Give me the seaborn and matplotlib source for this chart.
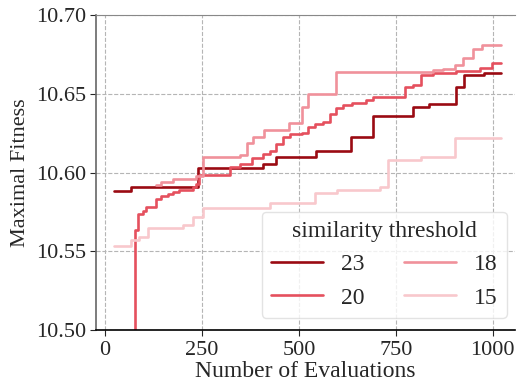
import pandas as pd
import matplotlib
matplotlib.use("Agg")
import matplotlib.pyplot as plt
import seaborn as sns

thresholds = ["23", "20", "18", "15"]
colors = ["#9a0a12", "#e5505e", "#f0919b", "#f8c8cc"]

evals_23 = [24, 67, 239, 408, 442, 543, 633, 691, 793, 836, 904, 926, 977, 1020]
fit_23 = [10.5884, 10.5906, 10.6027, 10.6054, 10.6100, 10.6137, 10.6223,
          10.6359, 10.6414, 10.6435, 10.6545, 10.6619, 10.6634, 10.6634]

evals_20 = [20, 76, 84, 97, 106, 131, 144, 161, 174, 191, 226, 235, 241,
            322, 348, 378, 408, 425, 442, 460, 477, 507, 524, 541, 563, 580,
            595, 614, 636, 674, 691, 773, 795, 814, 846, 906, 966, 997, 1020]
fit_20 = [10.40, 10.5635, 10.5737, 10.5759, 10.5780, 10.5830, 10.5850, 10.5865,
          10.5878, 10.5890, 10.5906, 10.5925, 10.5984, 10.6037, 10.6054, 10.6090,
          10.6115, 10.6138, 10.6180, 10.6227, 10.6242, 10.6253, 10.6291, 10.6308,
          10.6323, 10.6371, 10.6407, 10.6429, 10.6444, 10.6460, 10.6481, 10.6541,
          10.6556, 10.6619, 10.6630, 10.6646, 10.6661, 10.6697, 10.6697]

evals_18 = [131, 144, 174, 235, 252, 348, 365, 381, 411, 475, 507, 524, 595,
            846, 872, 902, 924, 948, 971, 1020]
fit_18 = [10.5920, 10.5942, 10.5960, 10.5975, 10.6097, 10.6111, 10.6185,
          10.6223, 10.6270, 10.6316, 10.6414, 10.6498, 10.6640, 10.6650,
          10.6660, 10.6683, 10.6725, 10.6782, 10.6810, 10.6810]

evals_15 = [24, 67, 88, 110, 202, 228, 253, 425, 541, 597, 709, 730, 816, 902, 1020]
fit_15 = [10.5533, 10.5571, 10.5588, 10.5645, 10.5667, 10.5719, 10.5772,
          10.5804, 10.5868, 10.5889, 10.5906, 10.6079, 10.6097, 10.6221, 10.6221]

frames = []
for name, ev, ft in zip(thresholds, [evals_23, evals_20, evals_18, evals_15],
                        [fit_23, fit_20, fit_18, fit_15]):
    frames.append(pd.DataFrame({"evals": ev, "fitness": ft, "similarity threshold": name}))
df = pd.concat(frames, ignore_index=True)

sns.set_style("ticks")
plt.rcParams["font.family"] = ["Liberation Serif", "DejaVu Serif"]

fig = plt.figure(figsize=(5.17, 3.83), dpi=100)
ax = fig.add_axes([0.186, 0.138, 0.81, 0.823])

sns.lineplot(data=df, x="evals", y="fitness", hue="similarity threshold",
             hue_order=thresholds, palette=colors, drawstyle="steps-post",
             linewidth=1.9, estimator=None, sort=False, ax=ax)

ax.set_xlim(-23, 1057)
ax.set_ylim(10.50, 10.70)
ax.set_xticks([0, 250, 500, 750, 1000])
ax.set_yticks([10.50, 10.55, 10.60, 10.65, 10.70])
ax.set_yticklabels(["10.50", "10.55", "10.60", "10.65", "10.70"])
ax.grid(True, linestyle="--", color="#b5b5b5", linewidth=0.8)
ax.set_axisbelow(True)
ax.tick_params(labelsize=16, length=4)
ax.set_xlabel("Number of Evaluations", fontsize=17, labelpad=1)
ax.set_ylabel("Maximal Fitness", fontsize=16)

ax.spines["right"].set_visible(False)
ax.spines["top"].set_color("#888888")
ax.spines["left"].set_color("#666666")
ax.spines["left"].set_linewidth(1.2)
ax.spines["bottom"].set_color("black")
ax.spines["bottom"].set_linewidth(1.2)

leg = ax.legend(title="similarity threshold", ncol=2, fontsize=17, title_fontsize=17,
                loc="lower right", bbox_to_anchor=(0.981, 0.038), borderaxespad=0,
                handlelength=2.2, handletextpad=0.75, columnspacing=1.7,
                frameon=True, fancybox=True)
leg.get_frame().set_edgecolor("#dddddd")

fig.savefig("out.png", dpi=100)
